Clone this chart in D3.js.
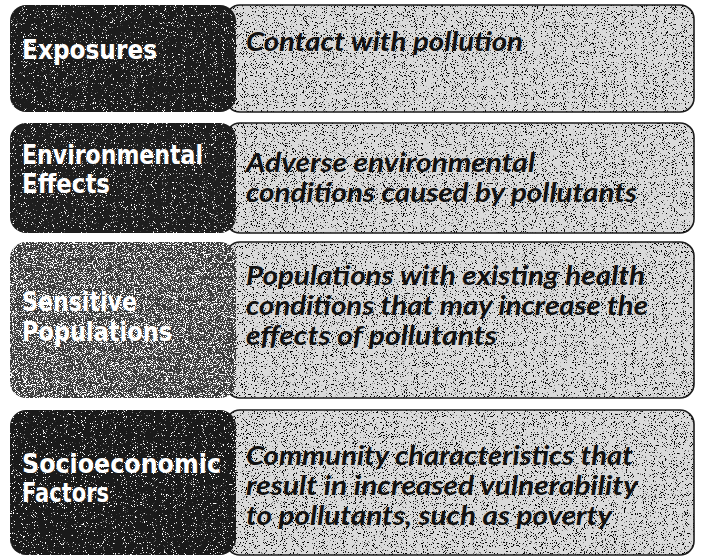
<!DOCTYPE html>
<html>
<head>
<meta charset="utf-8">
<script src="https://cdn.jsdelivr.net/npm/d3@7"></script>
<style>
  html, body { margin: 0; padding: 0; background: #fff; }
  svg { display: block; }
</style>
</head>
<body>
<svg id="chart" width="701" height="558"></svg>
<script>
// ---- data ----
const categories = ["Exposures", "Environmental Effects", "Sensitive Populations", "Socioeconomic Factors"];
const categoryLines = [
  ["Exposures"],
  ["Environmental", "Effects"],
  ["Sensitive", "Populations"],
  ["Socioeconomic", "Factors"]
];
const descriptionLines = [
  ["Contact with pollution"],
  ["Adverse environmental", "conditions caused by pollutants"],
  ["Populations with existing health", "conditions that may increase the", "effects of pollutants"],
  ["Community characteristics that", "result in increased vulnerability", "to pollutants, such as poverty"]
];

// ---- layout (not data) ----
const rowTop = [5, 123, 242, 410];
const rowBottom = [112, 233, 398, 555];
const leftFirstBase = [59, 164, 311, 473];
const leftGap = [0, 29, 30, 29];
const rightFirstBase = [51, 172, 285, 465];
// measured widths of text lines in the picture (layout)
const catWidth = [[135], [181, 88], [115, 150], [199, 87]];
const descEnd = [[523], [535, 637], [645, 648, 497], [633, 638, 612]];
const darkFill = ["#1c1c1c", "#1e1e1e", "#3a3a3a", "#1a1a1a"];
const darkSpeck = ["specDarkLow", "specDarkLow", "specDarkHigh", "specDarkLow"];

const svg = d3.select("#chart");
const defs = svg.append("defs");

function speckle(id, color, seed, thr) {
  const f = defs.append("filter").attr("id", id)
    .attr("x", 0).attr("y", 0).attr("width", 1).attr("height", 1);
  f.append("feTurbulence").attr("type", "fractalNoise")
    .attr("baseFrequency", 1.1).attr("numOctaves", 2).attr("seed", seed).attr("result", "n");
  const c = d3.color(color);
  f.append("feColorMatrix").attr("in", "n").attr("type", "matrix")
    .attr("values", `0 0 0 0 ${c.r/255}  0 0 0 0 ${c.g/255}  0 0 0 0 ${c.b/255}  16 0 0 0 ${thr}`);
}
speckle("specLight", "#000", 4, -9.8);
speckle("specDarkLow", "#fff", 9, -10.4);
speckle("specDarkHigh", "#fff", 11, -8.6);

const rowIdx = d3.range(categories.length);
const g = svg.selectAll("g.row").data(rowIdx).join("g").attr("class", "row");

const lightX0 = 226, lightX1 = 694;
const darkX0 = 10, darkX1 = 236;
const descX = 246;

g.each(function(i) {
  const row = d3.select(this);
  const y0 = rowTop[i], y1 = rowBottom[i];
  const clipL = "clipL" + i, clipD = "clipD" + i;
  defs.append("clipPath").attr("id", clipL).append("rect")
    .attr("x", lightX0).attr("y", y0).attr("width", lightX1 - lightX0).attr("height", y1 - y0)
    .attr("rx", 14).attr("ry", 14);
  defs.append("clipPath").attr("id", clipD).append("rect")
    .attr("x", darkX0).attr("y", y0).attr("width", darkX1 - darkX0).attr("height", y1 - y0)
    .attr("rx", 16).attr("ry", 16);

  // light description box
  row.append("rect")
    .attr("x", lightX0).attr("y", y0).attr("width", lightX1 - lightX0).attr("height", y1 - y0)
    .attr("rx", 14).attr("ry", 14).attr("fill", "#dadada");
  row.append("rect")
    .attr("x", lightX0).attr("y", y0).attr("width", lightX1 - lightX0).attr("height", y1 - y0)
    .attr("fill", "#fff").attr("filter", "url(#specLight)").attr("clip-path", `url(#${clipL})`);
  row.append("rect")
    .attr("x", lightX0).attr("y", y0).attr("width", lightX1 - lightX0).attr("height", y1 - y0)
    .attr("rx", 14).attr("ry", 14).attr("fill", "none")
    .attr("stroke", "#1a1a1a").attr("stroke-width", 1.6);

  // dark category box
  row.append("rect")
    .attr("x", darkX0).attr("y", y0).attr("width", darkX1 - darkX0).attr("height", y1 - y0)
    .attr("rx", 16).attr("ry", 16).attr("fill", darkFill[i]);
  row.append("rect")
    .attr("x", darkX0).attr("y", y0).attr("width", darkX1 - darkX0).attr("height", y1 - y0)
    .attr("fill", "#000").attr("filter", `url(#${darkSpeck[i]})`).attr("clip-path", `url(#${clipD})`);

  // category label
  row.selectAll("text.cat").data(categoryLines[i]).join("text")
    .attr("class", "cat")
    .attr("x", 22)
    .attr("y", (d, k) => leftFirstBase[i] + k * leftGap[i])
    .attr("textLength", (d, k) => catWidth[i][k])
    .attr("lengthAdjust", "spacingAndGlyphs")
    .attr("fill", "#fff")
    .style("font-family", "'DejaVu Sans', 'Liberation Sans', sans-serif")
    .style("font-weight", "bold")
    .style("font-size", "26px")
    .text(d => d);

  // description
  row.selectAll("text.desc").data(descriptionLines[i]).join("text")
    .attr("class", "desc")
    .attr("x", descX)
    .attr("y", (d, k) => rightFirstBase[i] + k * 30)
    .attr("textLength", (d, k) => descEnd[i][k] - descX)
    .attr("lengthAdjust", "spacingAndGlyphs")
    .attr("fill", "#111")
    .style("font-family", "Lato, 'Open Sans', sans-serif")
    .style("font-style", "italic")
    .style("font-weight", "bold")
    .style("font-size", "26px")
    .text(d => d);
});
</script>
</body>
</html>
